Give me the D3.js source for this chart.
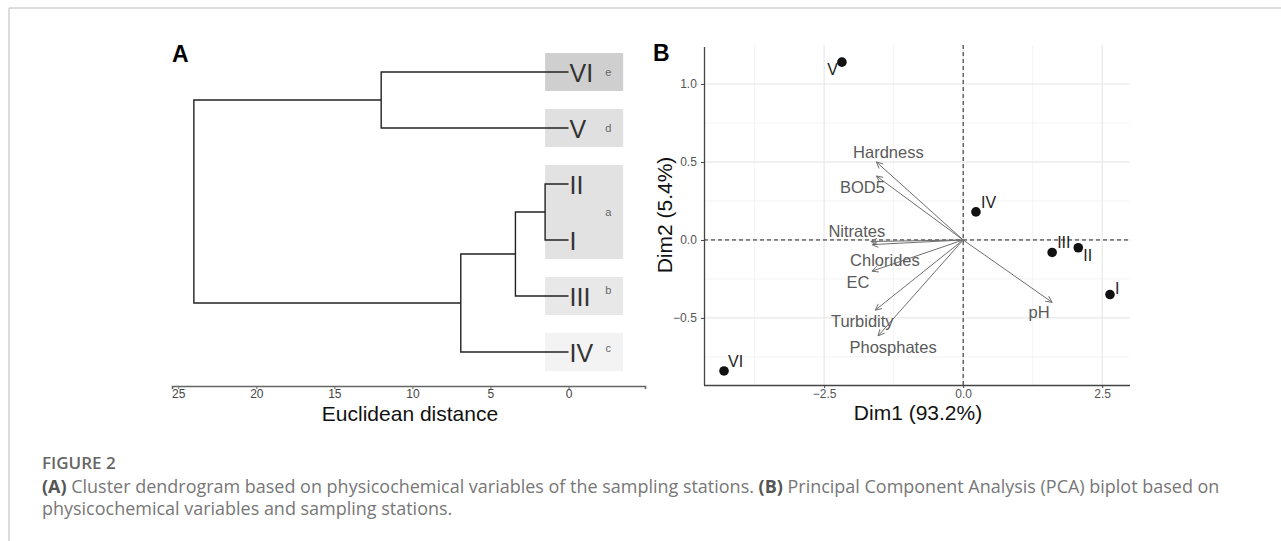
<!DOCTYPE html>
<html>
<head>
<meta charset="utf-8">
<script src="https://cdn.jsdelivr.net/npm/d3@7/dist/d3.min.js"></script>
<style>
  html,body{margin:0;padding:0;background:#fff;}
  svg{display:block;}
</style>
</head>
<body>
<svg id="chart" width="1281" height="541"></svg>
<script>
// ---------------- DATA ----------------
// Panel A: dendrogram
const leafOrder = ["VI", "V", "II", "I", "III", "IV"];
const merges = [            // [left, right, height]
  ["II", "I", 1.5],
  ["II+I", "III", 3.4],
  ["II+I+III", "IV", 6.9],
  ["VI", "V", 12.0],
  ["VI+V", "II+I+III+IV", 24.0]
];
const clusterLetters = ["e", "d", "a", "b", "c"];
const clusterMembers = [["VI"], ["V"], ["II", "I"], ["III"], ["IV"]];
const distanceTicks = [25, 20, 15, 10, 5, 0];

// Panel B: PCA biplot
const stations = ["I", "II", "III", "IV", "V", "VI"];
const stationDim1 = [2.64, 2.07, 1.60, 0.23, -2.18, -4.30];
const stationDim2 = [-0.35, -0.05, -0.08, 0.18, 1.14, -0.84];
const variables = ["Hardness", "BOD5", "Nitrates", "Chlorides", "EC", "Turbidity", "Phosphates", "pH"];
const varDim1 = [-1.56, -1.56, -1.66, -1.64, -1.64, -1.58, -1.53, 1.60];
const varDim2 = [0.50, 0.41, -0.01, -0.03, -0.20, -0.45, -0.615, -0.40];
const dim1Ticks = [-2.5, 0.0, 2.5];
const dim2Ticks = [-0.5, 0.0, 0.5, 1.0];

// ---------------- STYLE / LAYOUT ----------------
const clusterFills = ["#cfcfcf", "#e0e0e0", "#e2e2e2", "#e8e8e8", "#f3f3f3"];
const clusterLetterDy = [0, 0, 0, -6, -4];
const stationNudge = { I:[5,-1,"start"], II:[5,13,"start"], III:[5,-4,"start"], IV:[5,-4,"start"], V:[-4,13,"end"], VI:[4,-4,"start"] };
const varNudge = { Hardness:[12,-4], BOD5:[-14,17], Nitrates:[-14,-5], Chlorides:[13,21], EC:[-14,17], Turbidity:[-13,17], Phosphates:[15,17], pH:[-13,16] };

const svg = d3.select("#chart");
const FONT = "'Liberation Sans', Arial, sans-serif";

// frame
svg.append("line").attr("x1", 9).attr("x2", 1281).attr("y1", 8).attr("y2", 8)
  .attr("stroke", "#d2d2d2").attr("stroke-width", 1.5);
svg.append("line").attr("x1", 9).attr("x2", 9).attr("y1", 8).attr("y2", 541)
  .attr("stroke", "#d2d2d2").attr("stroke-width", 1.5);

// ================= PANEL A =================
const gA = svg.append("g");
const xA = d3.scaleLinear().domain([25.4, -4.9]).range([172, 645]);
const yA = d3.scalePoint().domain(leafOrder).range([72, 352]);

// cluster boxes
clusterMembers.forEach((mem, i) => {
  const ys = mem.map(m => yA(m));
  const y0 = d3.min(ys) - 19, y1 = d3.max(ys) + 19;
  gA.append("rect")
    .attr("x", xA(1.5)).attr("width", xA(-3.5) - xA(1.5))
    .attr("y", y0).attr("height", y1 - y0)
    .attr("fill", clusterFills[i]);
  gA.append("text")
    .attr("x", xA(-2.55)).attr("y", (y0 + y1) / 2 + clusterLetterDy[i])
    .attr("dy", "0.32em").attr("text-anchor", "middle")
    .attr("font-family", FONT).attr("font-size", 11).attr("fill", "#666")
    .text(clusterLetters[i]);
});

// build node positions
const nodes = {};
leafOrder.forEach(l => nodes[l] = { y: yA(l), h: 0 });
merges.forEach(([a, b, h]) => {
  const na = nodes[a], nb = nodes[b];
  const name = a + "+" + b;
  nodes[name] = { y: (na.y + nb.y) / 2, h: h };
  const p = d3.path();
  p.moveTo(xA(na.h), na.y); p.lineTo(xA(h), na.y);
  p.lineTo(xA(h), nb.y); p.lineTo(xA(nb.h), nb.y);
  gA.append("path").attr("d", p.toString())
    .attr("fill", "none").attr("stroke", "#222").attr("stroke-width", 1.4);
});

// leaf labels
leafOrder.forEach(l => {
  gA.append("text")
    .attr("x", xA(0) + 1).attr("y", yA(l) + 9.5)
    .attr("font-family", FONT).attr("font-size", 25).attr("fill", "#333")
    .text(l);
});

// axis
const axA = gA.append("g").attr("transform", "translate(0,386)")
  .call(d3.axisBottom(xA).tickValues(distanceTicks).tickSize(3).tickFormat(d3.format("d")));
axA.select(".domain").attr("stroke", "#666").attr("stroke-width", 1.6);
axA.selectAll(".tick line").attr("stroke", "#666");
axA.selectAll(".tick text").attr("font-family", FONT).attr("font-size", 12).attr("fill", "#444").attr("dy", "0.5em");

gA.append("text").attr("x", 410).attr("y", 421).attr("text-anchor", "middle")
  .attr("font-family", FONT).attr("font-size", 21).attr("fill", "#111")
  .text("Euclidean distance");

gA.append("text").attr("x", 172).attr("y", 62)
  .attr("font-family", FONT).attr("font-size", 23).attr("font-weight", "bold").attr("fill", "#000")
  .text("A");

// ================= PANEL B =================
const gB = svg.append("g");
const xB = d3.scaleLinear().domain([-4.66, 3.0]).range([704, 1130]);
const yB = d3.scaleLinear().domain([-0.93, 1.25]).range([385, 45]);

// minor grid
const xMinor = [-3.75, -1.25, 1.25];
const yMinor = [-0.75, -0.25, 0.25, 0.75];
gB.selectAll(".vminor").data(xMinor).enter().append("line")
  .attr("x1", d => xB(d)).attr("x2", d => xB(d)).attr("y1", 45).attr("y2", 385)
  .attr("stroke", "#f0f0f0").attr("stroke-width", 0.8);
gB.selectAll(".hminor").data(yMinor).enter().append("line")
  .attr("x1", 704).attr("x2", 1130).attr("y1", d => yB(d)).attr("y2", d => yB(d))
  .attr("stroke", "#f0f0f0").attr("stroke-width", 0.8);
// major grid
gB.selectAll(".vmajor").data(dim1Ticks).enter().append("line")
  .attr("x1", d => xB(d)).attr("x2", d => xB(d)).attr("y1", 45).attr("y2", 385)
  .attr("stroke", "#e8e8e8").attr("stroke-width", 1.2);
gB.selectAll(".hmajor").data(dim2Ticks).enter().append("line")
  .attr("x1", 704).attr("x2", 1130).attr("y1", d => yB(d)).attr("y2", d => yB(d))
  .attr("stroke", "#e8e8e8").attr("stroke-width", 1.2);

// dashed zero lines
gB.append("line").attr("x1", xB(0)).attr("x2", xB(0)).attr("y1", 45).attr("y2", 385)
  .attr("stroke", "#222").attr("stroke-width", 1).attr("stroke-dasharray", "4,3");
gB.append("line").attr("x1", 704).attr("x2", 1130).attr("y1", yB(0)).attr("y2", yB(0))
  .attr("stroke", "#222").attr("stroke-width", 1).attr("stroke-dasharray", "4,3");

// axes
const axBx = gB.append("g").attr("transform", "translate(0,385)")
  .call(d3.axisBottom(xB).tickValues(dim1Ticks).tickSize(3).tickFormat(d3.format(".1f")));
const axBy = gB.append("g").attr("transform", "translate(704,0)")
  .call(d3.axisLeft(yB).tickValues(dim2Ticks).tickSize(3).tickFormat(d3.format(".1f")));
[axBx, axBy].forEach(ax => {
  ax.select(".domain").attr("stroke", "#444").attr("stroke-width", 1.3);
  ax.selectAll(".tick line").attr("stroke", "#444");
  ax.selectAll(".tick text").attr("font-family", FONT).attr("font-size", 12).attr("fill", "#555");
});
axBx.selectAll(".tick text").attr("dy", "0.6em");
axBy.selectAll(".tick text").attr("dx", "-0.1em");
axBx.select(".domain").attr("d", "M704,0.5H1130");
axBy.select(".domain").attr("d", "M0.5,47V385");

// variable arrows
const ox = xB(0), oy = yB(0);
variables.forEach((v, i) => {
  const tx = xB(varDim1[i]), ty = yB(varDim2[i]);
  const ang = Math.atan2(ty - oy, tx - ox);
  const L = 7, a = Math.PI / 7;
  const p = d3.path();
  p.moveTo(ox, oy); p.lineTo(tx, ty);
  p.moveTo(tx - L * Math.cos(ang - a), ty - L * Math.sin(ang - a));
  p.lineTo(tx, ty);
  p.lineTo(tx - L * Math.cos(ang + a), ty - L * Math.sin(ang + a));
  gB.append("path").attr("d", p.toString()).attr("fill", "none")
    .attr("stroke", "#6e6e6e").attr("stroke-width", 1);
});
variables.forEach((v, i) => {
  const tx = xB(varDim1[i]), ty = yB(varDim2[i]);
  const n = varNudge[v];
  gB.append("text").attr("x", tx + n[0]).attr("y", ty + n[1])
    .attr("text-anchor", "middle")
    .attr("font-family", FONT).attr("font-size", 16.5).attr("fill", "#5a5a5a")
    .text(v);
});

// stations
stations.forEach((s, i) => {
  const px = xB(stationDim1[i]), py = yB(stationDim2[i]);
  gB.append("circle").attr("cx", px).attr("cy", py).attr("r", 4.8).attr("fill", "#111");
  const n = stationNudge[s];
  gB.append("text").attr("x", px + n[0]).attr("y", py + n[1])
    .attr("text-anchor", n[2])
    .attr("font-family", FONT).attr("font-size", 16).attr("fill", "#222")
    .text(s);
});

// axis titles
gB.append("text").attr("x", 918).attr("y", 420).attr("text-anchor", "middle")
  .attr("font-family", FONT).attr("font-size", 21).attr("fill", "#111")
  .text("Dim1 (93.2%)");
gB.append("text").attr("transform", "translate(672,215) rotate(-90)")
  .attr("text-anchor", "middle")
  .attr("font-family", FONT).attr("font-size", 21).attr("fill", "#111")
  .text("Dim2 (5.4%)");
gB.append("text").attr("x", 653).attr("y", 61)
  .attr("font-family", FONT).attr("font-size", 23).attr("font-weight", "bold").attr("fill", "#000")
  .text("B");

// ================= CAPTION =================
const CF = "'Open Sans', 'Noto Sans', sans-serif";
svg.append("text").attr("x", 42).attr("y", 469)
  .attr("font-family", CF).attr("font-size", 17).attr("font-weight", 600).attr("fill", "#666")
  .text("FIGURE 2");
const l1 = svg.append("text").attr("x", 42).attr("y", 493)
  .attr("font-family", CF).attr("font-size", 16).attr("fill", "#777");
l1.append("tspan").attr("font-weight", 700).attr("fill", "#555").text("(A)");
l1.append("tspan").text(" Cluster dendrogram based on physicochemical variables of the sampling stations. ");
l1.append("tspan").attr("font-weight", 700).attr("fill", "#555").text("(B)");
l1.append("tspan").text(" Principal Component Analysis (PCA) biplot based on");
const l2 = svg.append("text").attr("x", 42).attr("y", 515)
  .attr("font-family", CF).attr("font-size", 16).attr("fill", "#777")
  .text("physicochemical variables and sampling stations.");
// fit first line to reference width
const w1 = l1.node().getComputedTextLength();
const fs = 16 * 1178 / w1;
l1.attr("font-size", fs);
l2.attr("font-size", fs);
</script>
</body>
</html>
